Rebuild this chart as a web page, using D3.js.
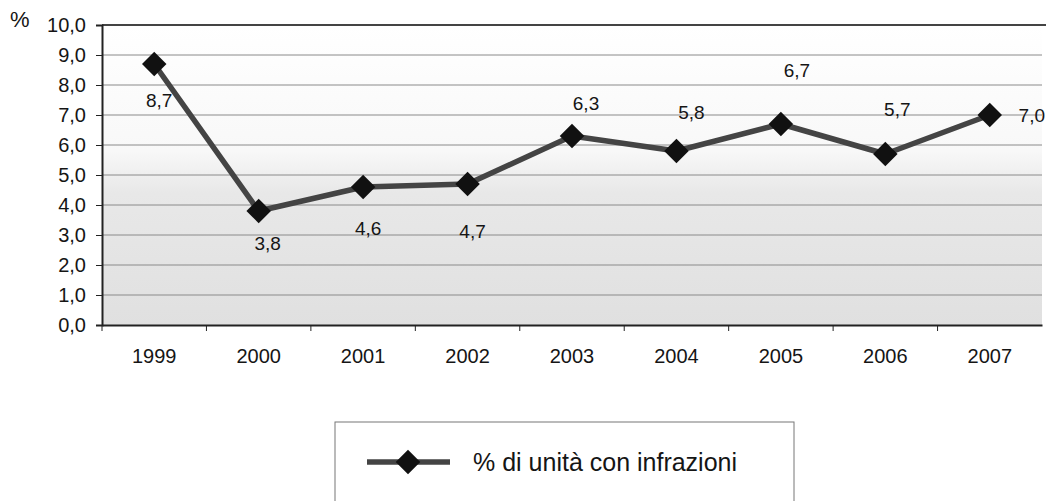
<!DOCTYPE html>
<meta charset="utf-8">
<style>
body { margin: 0; background: #fff; }
text { font-family: "Liberation Sans", Arial, sans-serif; fill: #151515; }
.grid line { stroke: #8a8a8a; stroke-width: 1px; }
</style>
<body>
<script src="https://cdn.jsdelivr.net/npm/d3@7"></script>
<script>

var years = ["1999", "2000", "2001", "2002", "2003", "2004", "2005", "2006", "2007"];
var values = [8.7, 3.8, 4.6, 4.7, 6.3, 5.8, 6.7, 5.7, 7.0];
var yTicks = [0, 1, 2, 3, 4, 5, 6, 7, 8, 9, 10];
var seriesName = "% di unità con infrazioni";

// where each value label sits relative to its marker (as in the original)
var labelOffsets = [[5, 36], [9, 32], [5, 41], [5, 47], [14, -33], [15, -39], [16, -54], [12, -45], [42, 0]];

var width = 1048, height = 501;
var margin = {top: 25, right: 6, bottom: 176, left: 102};
var w = width - margin.left - margin.right,
    h = height - margin.top - margin.bottom;

var svg = d3.select("body").append("svg")
    .attr("width", width)
    .attr("height", height);

var defs = svg.append("defs");
var grad = defs.append("linearGradient")
    .attr("id", "bg").attr("x1", 0).attr("y1", 0).attr("x2", 0).attr("y2", 1);
grad.append("stop").attr("offset", "0%").attr("stop-color", "#ffffff");
grad.append("stop").attr("offset", "42%").attr("stop-color", "#f8f8f8");
grad.append("stop").attr("offset", "56%").attr("stop-color", "#e8e8e8");
grad.append("stop").attr("offset", "100%").attr("stop-color", "#e0e0e0");

var x = d3.scaleBand().domain(years).range([0, w]);
var y = d3.scaleLinear().domain([0, 10]).range([h, 0]);

var g = svg.append("g")
    .attr("transform", "translate(" + margin.left + "," + margin.top + ")");

g.append("rect")
    .attr("width", w)
    .attr("height", h)
    .attr("fill", "url(#bg)");

g.append("g")
    .attr("class", "grid")
  .selectAll("line")
  .data(yTicks.slice(1, -1))
  .enter().append("line")
    .attr("x1", 0).attr("x2", w)
    .attr("y1", function(d) { return y(d); })
    .attr("y2", function(d) { return y(d); });

// top border
g.append("line")
    .attr("x1", 0).attr("x2", w + 4)
    .attr("y1", 0).attr("y2", 0)
    .attr("stroke", "#444").attr("stroke-width", 2);

var fmt = function(d) { return d3.format(".1f")(d).replace(".", ","); };

var yAxis = g.append("g")
    .call(d3.axisLeft(y).tickValues(yTicks).tickSize(6).tickPadding(10).tickFormat(fmt));
yAxis.select(".domain").attr("stroke", "#222").attr("stroke-width", 2);
yAxis.selectAll(".tick line").attr("stroke", "#222");
yAxis.selectAll("text").style("font-size", "20px").attr("fill", "#151515");

var xAxis = g.append("g")
    .attr("transform", "translate(0," + h + ")")
    .call(d3.axisBottom(x).tickSize(0).tickPadding(24));
xAxis.select(".domain").attr("stroke", "#222").attr("stroke-width", 2);
xAxis.selectAll("text").style("font-size", "20px").attr("fill", "#151515");

// tick marks between categories
g.append("g")
  .selectAll("line")
  .data(d3.range(years.length))
  .enter().append("line")
    .attr("x1", function(i) { return x.step() * i; })
    .attr("x2", function(i) { return x.step() * i; })
    .attr("y1", h).attr("y2", h + 6)
    .attr("stroke", "#222");

svg.append("text")
    .attr("x", 10).attr("y", 27)
    .style("font-size", "22px")
    .text("%");

var line = d3.line()
    .x(function(d, i) { return x(years[i]) + x.bandwidth() / 2; })
    .y(function(d) { return y(d); });

g.append("path")
    .datum(values)
    .attr("d", line)
    .attr("fill", "none")
    .attr("stroke", "#444")
    .attr("stroke-width", 5.5)
    .attr("stroke-linejoin", "round");

var diamond = d3.symbol().type(d3.symbolSquare).size(300);

g.selectAll(".pt")
  .data(values)
  .enter().append("path")
    .attr("class", "pt")
    .attr("d", diamond)
    .attr("fill", "#111")
    .attr("transform", function(d, i) {
      return "translate(" + (x(years[i]) + x.bandwidth() / 2) + "," + y(d) + ") rotate(45)";
    });

g.selectAll(".lbl")
  .data(values)
  .enter().append("text")
    .attr("class", "lbl")
    .attr("x", function(d, i) { return x(years[i]) + x.bandwidth() / 2 + labelOffsets[i][0]; })
    .attr("y", function(d, i) { return y(d) + labelOffsets[i][1]; })
    .attr("dy", "0.35em")
    .attr("text-anchor", "middle")
    .style("font-size", "19px")
    .text(fmt);

// legend
var lg = svg.append("g").attr("transform", "translate(335,422)");
lg.append("rect")
    .attr("width", 459).attr("height", 90)
    .attr("fill", "#fff")
    .attr("stroke", "#777");
lg.append("line")
    .attr("x1", 32).attr("x2", 115)
    .attr("y1", 40).attr("y2", 40)
    .attr("stroke", "#444").attr("stroke-width", 5.5);
lg.append("path")
    .attr("d", diamond)
    .attr("fill", "#111")
    .attr("transform", "translate(73,40) rotate(45)");
lg.append("text")
    .attr("x", 138).attr("y", 40)
    .attr("dy", "0.35em")
    .style("font-size", "25px")
    .text(seriesName);

</script>
</body>
